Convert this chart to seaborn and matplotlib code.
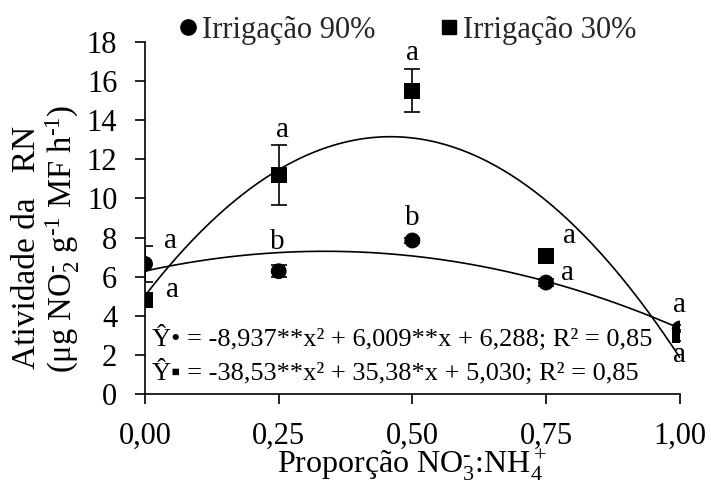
import numpy as np
import pandas as pd
import matplotlib
matplotlib.use("Agg")
import matplotlib.pyplot as plt
import seaborn as sns
from matplotlib.lines import Line2D

sns.set_theme(style="ticks")
plt.rcParams["font.family"] = ["Liberation Serif", "DejaVu Sans"]
plt.rcParams["mathtext.fontset"] = "custom"
plt.rcParams["mathtext.rm"] = "Liberation Serif"
plt.rcParams["mathtext.it"] = "Liberation Serif:italic"

# NO3-:NH4+ proportion levels
proporcao = [0.00, 0.25, 0.50, 0.75, 1.00]
proporcao_labels = ["0,00", "0,25", "0,50", "0,75", "1,00"]

# Nitrate reductase activity (means and standard errors)
irr90 = [6.65, 6.28, 7.85, 5.70, 3.35]
irr90_err = [0.90, 0.30, 0.15, 0.20, 0.20]
irr30 = [4.80, 11.20, 15.50, 7.04, 3.00]
irr30_err = [0.15, 1.55, 1.10, 0.15, 0.30]

# Quadratic fits (a*x^2 + b*x + c)
fit90 = [-8.937, 6.009, 6.288]
fit30 = [-38.53, 35.38, 5.030]

eq90 = "Ŷ• = -8,937**x² + 6,009**x + 6,288; R² = 0,85"
eq30 = "Ŷ▪ = -38,53**x² + 35,38*x + 5,030; R² = 0,85"

# Mean separation letters: (x, y, letter)
letras = [
    (0.047, 7.82, "a"), (0.052, 5.30, "a"),
    (0.258, 13.50, "a"), (0.247, 7.77, "b"),
    (0.500, 17.43, "a"), (0.500, 9.00, "b"),
    (0.794, 8.08, "a"), (0.790, 6.19, "a"),
    (1.000, 4.55, "a"), (1.000, 2.00, "a"),
]

df = pd.DataFrame({
    "x": proporcao * 2,
    "y": irr90 + irr30,
    "err": irr90_err + irr30_err,
    "serie": ["Irrigação 90%"] * 5 + ["Irrigação 30%"] * 5,
})

xs = np.linspace(0, 1, 200)
curves = pd.DataFrame({
    "x": np.concatenate([xs, xs]),
    "y": np.concatenate([np.polyval(fit90, xs), np.polyval(fit30, xs)]),
    "serie": ["Irrigação 90%"] * len(xs) + ["Irrigação 30%"] * len(xs),
})

fig = plt.figure(figsize=(7.11, 4.86), dpi=100)
ax = fig.add_axes([0.204, 0.189, 0.752, 0.725])

sns.lineplot(data=curves, x="x", y="y", units="serie", estimator=None,
             color="black", lw=1.2, ax=ax, legend=False)

for _, r in df.iterrows():
    ax.errorbar(r["x"], r["y"], yerr=r["err"], fmt="none", ecolor="black",
                elinewidth=1.2, capsize=5.5, capthick=1.2, zorder=3)

sns.scatterplot(data=df, x="x", y="y", style="serie",
                markers={"Irrigação 90%": "o", "Irrigação 30%": "s"},
                color="black", s=130, edgecolor="black", linewidth=0,
                ax=ax, legend=False, zorder=4)

for x, y, t in letras:
    ax.text(x, y, t, ha="center", va="center", fontsize=21, color="black")

ax.text(0.013, 2.45, eq90, fontsize=19, ha="left", va="baseline", color="black")
ax.text(0.013, 0.70, eq30, fontsize=19, ha="left", va="baseline", color="black")

ax.set_xlim(0, 1)
ax.set_ylim(0, 18)
ax.set_xticks(proporcao)
ax.set_xticklabels(proporcao_labels)
ax.set_yticks(range(0, 19, 2))
ax.tick_params(axis="both", labelsize=22, length=7, width=1.2, colors="black",
               direction="out")
ax.tick_params(axis="x", pad=13)
ax.tick_params(axis="y", pad=13)
for s in ["top", "right"]:
    ax.spines[s].set_visible(False)
for s in ["left", "bottom"]:
    ax.spines[s].set_linewidth(1.2)
    ax.spines[s].set_color("black")

ax.set_xlabel(r"Proporção NO$_3^{\text{-}}$:NH$_4^+$", fontsize=23,
              color="black", labelpad=-2)
ax.set_ylabel("")
fig.text(0.037, 0.49, "Atividade da   RN", rotation=90, ha="center", va="center",
         fontsize=24, color="black")
fig.text(0.088, 0.508, r"(μg NO$_2^{\text{-}}$ g$^{\text{-1}}$ MF h$^{\text{-1}}$)",
         rotation=90, ha="center", va="center", fontsize=23.5, color="black")

handles = [
    Line2D([], [], marker="o", ls="none", color="black", ms=11),
    Line2D([], [], marker="s", ls="none", color="black", ms=10),
]
fig.legend(handles, ["Irrigação 90%", "Irrigação 30%"], ncol=2, frameon=False,
           loc="center left", bbox_to_anchor=(0.252, 0.937), fontsize=22,
           handlelength=0.6, handletextpad=0.15, columnspacing=2.1,
           borderaxespad=0, borderpad=0)

fig.savefig("out.png", dpi=100, facecolor="white")
